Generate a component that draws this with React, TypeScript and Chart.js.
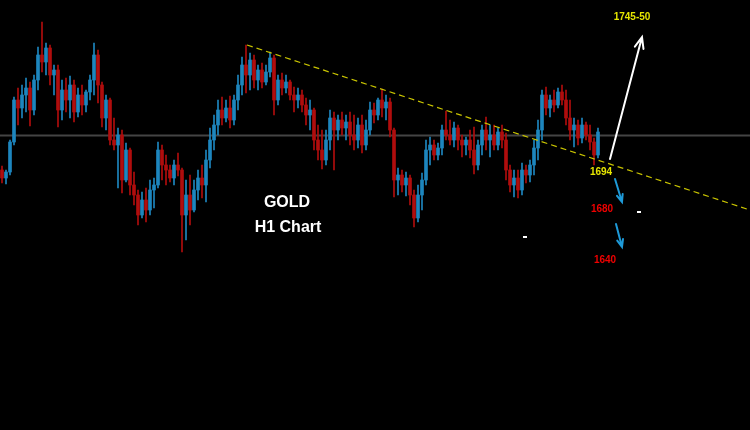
import React, { useEffect, useRef } from "react";
import { Chart, registerables } from "chart.js";

Chart.register(...registerables);

// H1 candles (index = bar number, values = price)
const OPENS = [
  1695, 1691, 1694, 1709, 1730, 1726, 1732.5, 1736, 1725, 1740,
  1752.5, 1749, 1756, 1742.5, 1745, 1725, 1735, 1730, 1737.5, 1724,
  1732.5, 1727.5, 1734, 1740, 1752.5, 1737.5, 1721, 1730, 1710, 1707.5,
  1712.5, 1690, 1705, 1687.5, 1682.5, 1672.5, 1680, 1675, 1685, 1687.5,
  1705, 1697.5, 1695, 1691, 1697.5, 1695, 1672.5, 1682.5, 1675, 1685,
  1691, 1687.5, 1700, 1710, 1717.5, 1725, 1721, 1726, 1720, 1730,
  1737.5, 1747.5, 1742.5, 1750, 1740, 1745, 1739, 1744, 1751, 1730,
  1740, 1736, 1739, 1732.5, 1730, 1732.5, 1727.5, 1722.5, 1725, 1710,
  1705, 1700, 1710, 1721, 1715, 1720, 1716, 1719, 1712.5, 1710,
  1717.5, 1707.5, 1715, 1725, 1722.5, 1730, 1726, 1729, 1715, 1690,
  1692.5, 1687.5, 1691, 1682.5, 1671, 1682.5, 1690, 1705, 1707.5, 1702.5,
  1706, 1715, 1712.5, 1710, 1716, 1710, 1707.5, 1710, 1705, 1697.5,
  1707.5, 1715, 1710, 1712.5, 1707.5, 1714, 1710, 1695, 1687.5, 1691,
  1685, 1695, 1692.5, 1697.5, 1706, 1715, 1732.5, 1726, 1730, 1727.5,
  1734, 1730, 1721, 1715, 1717.5, 1711, 1717.5, 1712.5, 1709, 1702.5,
];
const HIGHS = [
  1697, 1695, 1710, 1731.5, 1736, 1737.5, 1741, 1739, 1742.5, 1756.5,
  1769, 1758.5, 1757.5, 1747.5, 1747.5, 1740, 1741, 1742, 1740, 1736,
  1737.5, 1735, 1742.5, 1758.5, 1755, 1739, 1732.5, 1731, 1721, 1716,
  1715, 1708.5, 1706, 1694, 1685, 1684, 1686, 1690, 1691, 1709,
  1707.5, 1702.5, 1697.5, 1700, 1703.5, 1696, 1690, 1692.5, 1690, 1695,
  1697.5, 1705, 1716, 1722.5, 1730, 1731.5, 1730, 1732, 1732.5, 1742.5,
  1751.5, 1757.5, 1753.5, 1752.5, 1747.5, 1748.5, 1747.5, 1754, 1752.5, 1742.5,
  1743.5, 1742.5, 1740, 1736.5, 1736, 1735, 1731, 1730, 1726, 1717.5,
  1715, 1715, 1725, 1724, 1722.5, 1724, 1722.5, 1724, 1722.5, 1721,
  1722.5, 1720, 1729, 1728.5, 1731, 1735.5, 1732.5, 1731, 1716, 1696,
  1695, 1694, 1692.5, 1685, 1687.5, 1693.5, 1710, 1711.5, 1710, 1708.5,
  1717.5, 1724.5, 1720, 1719, 1717.5, 1712.5, 1711.5, 1715, 1716.5, 1710,
  1717.5, 1721.5, 1717.5, 1717.5, 1716, 1717.5, 1713.5, 1697.5, 1695, 1695,
  1698.5, 1697.5, 1700, 1710, 1720, 1735, 1736.5, 1732.5, 1735, 1736,
  1737.5, 1735, 1730, 1721, 1720, 1721, 1719, 1717.5, 1711, 1716,
];
const LOWS = [
  1688.5, 1688, 1692.5, 1707.5, 1717.5, 1721, 1724, 1717, 1722.5, 1735,
  1744, 1742.5, 1737.5, 1732.5, 1716.5, 1720, 1724, 1721, 1719, 1721.5,
  1722.5, 1724, 1730, 1732.5, 1728.5, 1716.5, 1715, 1707.5, 1705, 1686,
  1683.5, 1689, 1682.5, 1677.5, 1667.5, 1671, 1669, 1672.5, 1676, 1686,
  1690, 1687.5, 1689, 1687.5, 1692, 1654, 1660, 1667.5, 1674, 1680,
  1681, 1679, 1696, 1705, 1712.5, 1717.5, 1719, 1716, 1717.5, 1725,
  1732.5, 1733.5, 1735, 1736, 1735, 1736, 1737.5, 1741.5, 1722.5, 1727.5,
  1732.5, 1733.5, 1730, 1724, 1726, 1724, 1717.5, 1715, 1705, 1700,
  1695.5, 1697.5, 1705, 1695, 1710, 1712.5, 1710, 1707.5, 1705, 1706,
  1703.5, 1705, 1712.5, 1718.5, 1720, 1721.5, 1720, 1711.5, 1681.5, 1682.5,
  1684, 1682, 1677.5, 1666.5, 1669, 1675, 1687.5, 1697.5, 1700, 1700,
  1702.5, 1710, 1707.5, 1706.5, 1705, 1701.5, 1702.5, 1701, 1693, 1695,
  1702.5, 1705, 1701.5, 1705, 1705, 1706, 1690, 1684, 1681.5, 1681,
  1682.5, 1688.5, 1689, 1692.5, 1700, 1710, 1722.5, 1721.5, 1724, 1726,
  1727.5, 1717.5, 1710, 1706.5, 1707.5, 1708.5, 1710, 1705, 1697.5, 1701,
];
const CLOSES = [
  1691, 1694, 1709, 1730, 1726, 1732.5, 1736, 1725, 1740, 1752.5,
  1749, 1756, 1742.5, 1745, 1725, 1735, 1730, 1737.5, 1724, 1732.5,
  1727.5, 1734, 1740, 1752.5, 1737.5, 1721, 1730, 1710, 1707.5, 1712.5,
  1690, 1705, 1687.5, 1682.5, 1672.5, 1680, 1675, 1685, 1687.5, 1705,
  1697.5, 1695, 1691, 1697.5, 1695, 1672.5, 1682.5, 1675, 1685, 1691,
  1687.5, 1700, 1710, 1717.5, 1725, 1721, 1726, 1720, 1730, 1737.5,
  1747.5, 1742.5, 1750, 1740, 1745, 1739, 1744, 1751, 1730, 1740,
  1736, 1739, 1732.5, 1730, 1732.5, 1727.5, 1722.5, 1725, 1710, 1705,
  1700, 1710, 1721, 1715, 1720, 1716, 1719, 1712.5, 1710, 1717.5,
  1707.5, 1715, 1725, 1722.5, 1730, 1726, 1729, 1715, 1690, 1692.5,
  1687.5, 1691, 1682.5, 1671, 1682.5, 1690, 1705, 1707.5, 1702.5, 1706,
  1715, 1712.5, 1710, 1716, 1710, 1707.5, 1710, 1705, 1697.5, 1707.5,
  1715, 1710, 1712.5, 1707.5, 1714, 1710, 1695, 1687.5, 1691, 1685,
  1695, 1692.5, 1697.5, 1706, 1715, 1732.5, 1726, 1730, 1727.5, 1734,
  1730, 1721, 1715, 1717.5, 1711, 1717.5, 1712.5, 1709, 1702.5, 1714,
];

// Resistance trendline (bar index, price) and current price line
const TREND_X = [61.25, 187];
const TREND_Y = [1757.5, 1675];
const PRICE_LEVEL = 1712.25;

// Annotation labels
const LABEL_TEXTS = ["1745-50", "1694", "1680", "1640"];
const LABEL_X = [157.5, 149.75, 150, 150.75];
const LABEL_Y = [1771.5, 1694, 1675.5, 1650];
const LABEL_COLORS = ["#e6e600", "#e6e600", "#ee0000", "#ee0000"];

const TITLE_LINES = ["GOLD", "H1 Chart"];

const BULL = "#1d86be";
const BEAR = "#b00d0d";

const X_MIN = -0.5;
const X_MAX = 187;
const Y_MIN = 1565;
const Y_MAX = 1780;

function drawArrow(ctx: CanvasRenderingContext2D, x0: number, y0: number, x1: number, y1: number, color: string, width: number, head: number) {
  const ang = Math.atan2(y1 - y0, x1 - x0);
  ctx.strokeStyle = color;
  ctx.lineWidth = width;
  ctx.lineCap = "round";
  ctx.beginPath();
  ctx.moveTo(x0, y0);
  ctx.lineTo(x1, y1);
  ctx.moveTo(x1 - head * Math.cos(ang - 0.38), y1 - head * Math.sin(ang - 0.38));
  ctx.lineTo(x1, y1);
  ctx.lineTo(x1 - head * Math.cos(ang + 0.38), y1 - head * Math.sin(ang + 0.38));
  ctx.stroke();
}

const annotationPlugin = {
  id: "annotations",
  afterDatasetsDraw(chart: any) {
    const ctx: CanvasRenderingContext2D = chart.ctx;
    const xs = chart.scales.x;
    const ys = chart.scales.y;
    const X = (v: number) => xs.getPixelForValue(v);
    const Y = (v: number) => ys.getPixelForValue(v);
    ctx.save();
    // target arrows
    drawArrow(ctx, X(152), Y(1700.5), X(160), Y(1761.5), "#ffffff", 2, 12);
    drawArrow(ctx, X(153.25), Y(1690.5), X(155), Y(1679), "#1e9ad8", 2, 8);
    drawArrow(ctx, X(153.5), Y(1668), X(155), Y(1656.5), "#1e9ad8", 2, 8);
    // price labels
    ctx.textAlign = "center";
    ctx.textBaseline = "middle";
    ctx.font = "bold 10px 'Liberation Sans', Arial, sans-serif";
    LABEL_TEXTS.forEach((t, i) => {
      ctx.fillStyle = LABEL_COLORS[i];
      ctx.fillText(t, X(LABEL_X[i]), Y(LABEL_Y[i]));
    });
    // title
    ctx.fillStyle = "#ffffff";
    ctx.font = "bold 16px 'Liberation Sans', Arial, sans-serif";
    ctx.fillText(TITLE_LINES[0], X(71.25), Y(1678.5));
    ctx.fillText(TITLE_LINES[1], X(71.5), Y(1666));
    // small marks
    ctx.fillRect(X(130.75) - 2, Y(1661.5) - 1, 4, 2);
    ctx.fillRect(X(159.25) - 2, Y(1674) - 1, 4, 2);
    ctx.restore();
  },
};

export default function App() {
  const ref = useRef<HTMLCanvasElement | null>(null);

  useEffect(() => {
    if (!ref.current) return;
    const colors = CLOSES.map((c, i) => (c >= OPENS[i] ? BULL : BEAR));
    const wicks = CLOSES.map((_, i) => ({ x: i, y: [LOWS[i], HIGHS[i]] }));
    const bodies = CLOSES.map((c, i) => {
      const lo = Math.min(OPENS[i], c);
      const hi = Math.max(OPENS[i], c);
      return { x: i, y: [lo, hi === lo ? hi + 0.5 : hi] };
    });
    const chart = new Chart(ref.current, {
      type: "bar",
      data: {
        datasets: [
          {
            type: "line",
            data: [
              { x: X_MIN, y: PRICE_LEVEL },
              { x: X_MAX, y: PRICE_LEVEL },
            ],
            borderColor: "#444444",
            borderWidth: 2,
            pointRadius: 0,
            order: 10,
          } as any,
          {
            data: wicks as any,
            backgroundColor: colors,
            barThickness: 1,
            grouped: false,
            borderWidth: 0,
            order: 5,
          } as any,
          {
            data: bodies as any,
            backgroundColor: colors,
            barThickness: 3,
            grouped: false,
            borderWidth: 0,
            order: 4,
          } as any,
          {
            type: "line",
            data: TREND_X.map((x, i) => ({ x, y: TREND_Y[i] })),
            borderColor: "#c9c400",
            borderWidth: 1.2,
            borderDash: [6, 4],
            pointRadius: 0,
            order: 0,
          } as any,
        ],
      },
      options: {
        responsive: false,
        animation: false,
        layout: { padding: 0 },
        plugins: { legend: { display: false }, tooltip: { enabled: false } },
        scales: {
          x: { type: "linear", min: X_MIN, max: X_MAX, display: false, offset: false },
          y: { type: "linear", min: Y_MIN, max: Y_MAX, display: false },
        },
      },
      plugins: [annotationPlugin],
    });
    return () => chart.destroy();
  }, []);

  return (
    <div style={{ position: "fixed", left: 0, top: 0, width: 750, height: 430, background: "#000000" }}>
      <canvas ref={ref} width={750} height={430} style={{ display: "block" }} />
    </div>
  );
}
